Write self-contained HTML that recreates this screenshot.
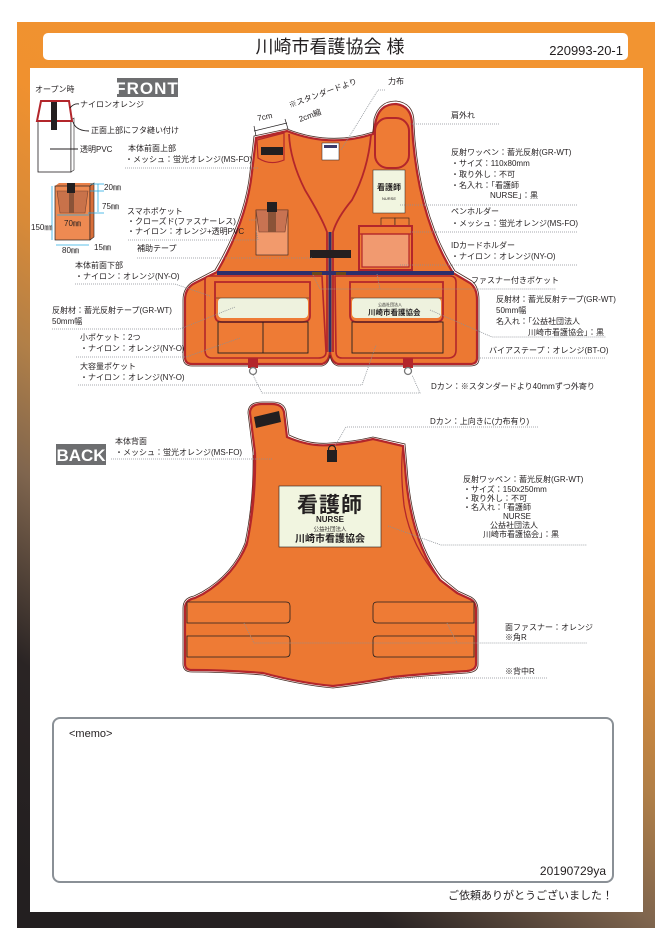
<!DOCTYPE html>
<html><head><meta charset="utf-8"><style>
html,body{margin:0;padding:0;background:#fff}
svg{display:block}
text{font-family:"Liberation Sans","Noto Sans CJK JP",sans-serif;fill:#231f20}
.l{font-size:8px}
.d{stroke:#8a8f95;stroke-width:0.8;stroke-dasharray:1 1;fill:none}
.v{fill:#ec7832;stroke:#b3262b;stroke-width:2.2}
.o{fill:none;stroke:#4a2a22;stroke-width:0.8}
.p{fill:#ee7b35;stroke:#b3262b;stroke-width:1.6}
.k{fill:none;stroke:#231f20;stroke-width:0.9}
</style></head><body>
<svg width="667" height="945" viewBox="0 0 667 945" xmlns="http://www.w3.org/2000/svg">
<defs>
<linearGradient id="fr" x1="100" y1="930" x2="600" y2="230" gradientUnits="userSpaceOnUse">
<stop offset="0" stop-color="#231f20"/>
<stop offset="0.2" stop-color="#2a2424"/>
<stop offset="0.38" stop-color="#7f654e"/>
<stop offset="0.5" stop-color="#b07f48"/>
<stop offset="0.62" stop-color="#d88a38"/>
<stop offset="0.75" stop-color="#f0912f"/>
<stop offset="1" stop-color="#f29431"/>
</linearGradient>
</defs>
<rect x="17" y="22" width="638" height="906" fill="url(#fr)"/>
<rect x="30" y="68" width="613" height="844" fill="#fff"/>
<rect x="43" y="33" width="585" height="27" rx="5" fill="#fff"/>
<text x="330" y="53" font-size="18" text-anchor="middle">川崎市看護協会 様</text>
<text x="623" y="55" font-size="13" text-anchor="end">220993-20-1</text>

<rect x="117" y="78" width="61" height="19" fill="#6d6e70"/>
<text x="147" y="94" font-size="17" font-weight="bold" text-anchor="middle" style="fill:#fff" letter-spacing="1">FRONT</text>
<rect x="56" y="444" width="50" height="21" fill="#6d6e70"/>
<text x="81" y="461" font-size="17" font-weight="bold" text-anchor="middle" style="fill:#fff" letter-spacing="0">BACK</text>

<text x="35" y="92" class="l">オープン時</text>
<rect x="38" y="120" width="33" height="52" fill="#fff" stroke="#231f20" stroke-width="0.8"/>
<polygon points="71,120 74,118 74,170 71,172" fill="#fff" stroke="#231f20" stroke-width="0.6"/>
<polygon points="41,101 69,101 72,121 37,121" fill="#fff" stroke="#b3262b" stroke-width="2"/>
<rect x="51" y="102" width="6" height="28" fill="#231f20"/>
<path d="M70,108 Q74,103 79,104" class="k"/><text x="80" y="107" class="l">ナイロンオレンジ</text>
<path d="M73,122 Q76,131 89,131" class="k"/><text x="91" y="133" class="l">正面上部にフタ縫い付け</text>
<line x1="50" y1="149" x2="78" y2="149" class="k"/><text x="80" y="152" class="l">透明PVC</text>

<polygon points="55,186 59,183 94,183 90,186" fill="#e9814a"/>
<rect x="55" y="186" width="35" height="54" fill="#ee8a52" stroke="#231f20" stroke-width="0.7"/>
<polygon points="90,186 94,183 94,237 90,240" fill="#d86f3a" stroke="#231f20" stroke-width="0.6"/>
<polygon points="57,191 88,191 85,213 60,213" fill="#c4704a" stroke="#6b3a2a" stroke-width="0.6" opacity="0.9"/>
<rect x="67" y="183" width="8" height="10" fill="#231f20"/>
<rect x="69" y="193" width="5" height="20" fill="#8a5338"/>
<g stroke="#29abe2" stroke-width="0.8" fill="none">
<line x1="52" y1="186" x2="52" y2="240"/><line x1="57" y1="215" x2="89" y2="215"/>
<line x1="56" y1="245" x2="89" y2="245"/><line x1="98" y1="184" x2="98" y2="212"/>
<line x1="90" y1="184" x2="104" y2="184"/><line x1="90" y1="191" x2="104" y2="191"/><line x1="88" y1="213" x2="104" y2="213"/>
</g>
<text x="104" y="190" class="l">20㎜</text><text x="102" y="209" class="l">75㎜</text>
<text x="31" y="230" class="l">150㎜</text><text x="64" y="226" class="l">70㎜</text>
<text x="62" y="253" class="l">80㎜</text><text x="94" y="250" class="l">15㎜</text>

<path class="v" d="M256,138 L287,131 Q330,148 373,134 L376,120 Q380,104 396,104 Q412,106 412,125 L413,140 Q420,220 453,273 L470,283 Q477,288 477,300 L477,358 Q477,364 470,364 L338,364 Q331,362 330,352 Q329,362 322,364 L192,364 Q185,364 185,357 L185,300 Q185,288 195,283 L217,272 Q247,220 252,172 Z"/>
<path class="o" d="M254,136 L287,129 Q330,146 373,132 L374,119 Q379,101 396,101 Q415,103 414,125 L415,140 Q422,219 455,271 L472,281 Q479,287 479,300 L479,359 Q479,366 470,366 L338,366 Q331,364 330,355 Q329,364 322,366 L192,366 Q183,366 183,357 L183,300 Q183,287 194,281 L215,270 Q245,219 250,172 Z"/>
<path d="M289,134 Q290,160 305,190 Q322,218 327,232 L327,352" fill="none" stroke="#b3262b" stroke-width="1.8"/>
<path d="M371,135 Q368,170 352,200 Q337,218 333,232 L333,352" fill="none" stroke="#b3262b" stroke-width="1.8"/>
<line x1="330" y1="232" x2="330" y2="352" stroke="#2e2f6b" stroke-width="3"/>
<rect x="217" y="271" width="237" height="4" fill="#2e2f6b"/>
<rect x="312" y="272" width="10" height="3" fill="#6b4a1a"/><rect x="336" y="272" width="10" height="3" fill="#6b4a1a"/>
<path d="M257,140 L284,133 L284,160 Q270,166 258,158 Z" fill="none" stroke="#b3262b" stroke-width="1.2"/>
<rect x="261" y="147" width="22" height="8" fill="#231f20"/>
<rect x="322" y="143" width="17" height="17" fill="#fff" stroke="#231f20" stroke-width="0.5"/>
<rect x="324" y="145" width="13" height="3" fill="#3a3a6a"/>
<rect x="375" y="118" width="34" height="50" rx="13" fill="#ee7b35" stroke="#b3262b" stroke-width="2"/>
<rect x="373" y="170" width="32" height="43" fill="#f1f5e0" stroke="#231f20" stroke-width="0.5"/>
<text x="389" y="190" font-size="8" font-weight="bold" text-anchor="middle">看護師</text>
<text x="389" y="200" font-size="4" text-anchor="middle">NURSE</text>
<rect x="381" y="218" width="14" height="8" fill="#ee7b35" stroke="#231f20" stroke-width="0.6"/>
<rect x="395" y="218" width="14" height="8" fill="#ee7b35" stroke="#231f20" stroke-width="0.6"/>
<rect x="359" y="226" width="53" height="44" fill="#ee7b35" stroke="#b3262b" stroke-width="2"/>
<rect x="362" y="234" width="47" height="33" fill="#f19a70" stroke="#b3262b" stroke-width="1.2"/>
<line x1="359" y1="234" x2="412" y2="234" stroke="#b3262b" stroke-width="1.2"/>
<rect x="256" y="210" width="32" height="45" fill="#f29a6c" stroke="#231f20" stroke-width="0.6"/>
<polygon points="256,210 288,210 285,232 259,232" fill="#c87352" stroke="#6b3a2a" stroke-width="0.6"/>
<rect x="267" y="202" width="10" height="10" fill="#231f20"/>
<rect x="268" y="212" width="8" height="20" fill="#8a5338"/>
<rect x="310" y="250" width="41" height="8" fill="#231f20"/>
<path class="p" d="M205,280 Q205,276 210,276 L322,276 L326,352 Q326,358 318,358 L212,358 Q205,358 205,350 Z"/>
<path d="M215,282 L310,282 L310,316 Q310,322 302,322 L222,322 Q215,322 215,315 Z" fill="#ee7b35" stroke="#b3262b" stroke-width="1.8"/>
<rect x="218" y="298" width="90" height="20" rx="4" fill="#eef2de"/>
<line x1="216" y1="298" x2="309" y2="298" stroke="#231f20" stroke-width="0.6"/>
<rect x="218" y="322" width="90" height="31" class="k"/><line x1="263" y1="322" x2="263" y2="353" class="k"/>
<path class="p" d="M335,276 L450,276 Q456,276 456,282 L456,350 Q456,358 448,358 L342,358 Q336,358 336,352 Z"/>
<path d="M350,282 L443,282 L443,315 Q443,322 436,322 L357,322 Q350,322 350,315 Z" fill="#ee7b35" stroke="#b3262b" stroke-width="1.8"/>
<rect x="352" y="298" width="89" height="20" rx="4" fill="#eef2de"/>
<line x1="351" y1="298" x2="442" y2="298" stroke="#231f20" stroke-width="0.6"/>
<text x="378" y="306" font-size="4">公益社団法人</text>
<text x="368" y="315" font-size="7.5" font-weight="bold">川崎市看護協会</text>
<rect x="352" y="322" width="91" height="31" class="k"/>
<rect x="248" y="358" width="10" height="10" fill="#b3262b"/><circle cx="253" cy="371" r="3.5" fill="none" stroke="#777" stroke-width="1.3"/>
<rect x="403" y="358" width="10" height="10" fill="#b3262b"/><circle cx="408" cy="371" r="3.5" fill="none" stroke="#777" stroke-width="1.3"/>

<text x="388" y="84" class="l">力布</text>
<path d="M385,90 L378,90 L341,150" class="d"/>
<g transform="translate(290,108) rotate(-20)"><text x="0" y="0" class="l">※スタンダードより</text></g>
<text x="300" y="122" class="l" transform="rotate(-20 300 122)">2cm縮</text>
<text x="258" y="121" class="l" transform="rotate(-12 258 121)">7cm</text>
<line x1="254" y1="131" x2="287" y2="123" stroke="#231f20" stroke-width="0.7"/>
<line x1="254" y1="126" x2="256" y2="136" stroke="#231f20" stroke-width="0.7"/><line x1="285" y1="119" x2="288" y2="129" stroke="#231f20" stroke-width="0.7"/>
<text x="451" y="118" class="l">肩外れ</text><line x1="410" y1="124" x2="500" y2="124" class="d"/>
<text x="451" y="155" class="l">反射ワッペン：蓄光反射(GR-WT)</text>
<text x="451" y="166" class="l">・サイズ：110x80mm</text>
<text x="451" y="177" class="l">・取り外し：不可</text>
<text x="451" y="188" class="l">・名入れ：「看護師</text>
<text x="490" y="198" class="l">NURSE」：黒</text>
<line x1="400" y1="205" x2="578" y2="205" class="d"/>
<text x="451" y="214" class="l">ペンホルダー</text>
<text x="451" y="226" class="l">・メッシュ：蛍光オレンジ(MS-FO)</text>
<line x1="410" y1="232" x2="578" y2="232" class="d"/>
<text x="451" y="248" class="l">IDカードホルダー</text>
<text x="451" y="259" class="l">・ナイロン：オレンジ(NY-O)</text>
<line x1="400" y1="265" x2="578" y2="265" class="d"/>
<text x="471" y="283" class="l">ファスナー付きポケット</text>
<path d="M313,275 L320,289 L556,289 M377,274 L380,289" class="d"/>
<text x="496" y="302" class="l">反射材：蓄光反射テープ(GR-WT)</text>
<text x="496" y="313" class="l">50mm幅</text>
<text x="496" y="324" class="l">名入れ：「公益社団法人</text>
<text x="528" y="335" class="l">川崎市看護協会」：黒</text>
<path d="M430,310 L492,337 L606,337" class="d"/>
<text x="489" y="353" class="l">バイアステープ：オレンジ(BT-O)</text>
<line x1="478" y1="358" x2="606" y2="358" class="d"/>
<text x="431" y="389" class="l">Dカン：※スタンダードより40mmずつ外寄り</text>
<path d="M253,375 L262,393 L420,393 L412,375" class="d"/>

<text x="128" y="151" class="l">本体前面上部</text>
<text x="125" y="162" class="l">・メッシュ：蛍光オレンジ(MS-FO)</text>
<line x1="125" y1="168" x2="258" y2="168" class="d"/>
<text x="127" y="214" class="l">スマホポケット</text>
<text x="127" y="224" class="l">・クローズド(ファスナーレス)</text>
<text x="127" y="234" class="l">・ナイロン：オレンジ+透明PVC</text>
<path d="M128,240 L258,240 L256,230 M249,220 L256,220" class="d"/>
<text x="137" y="251" class="l">補助テープ</text>
<line x1="137" y1="258" x2="313" y2="258" class="d"/>
<text x="75" y="268" class="l">本体前面下部</text>
<text x="75" y="279" class="l">・ナイロン：オレンジ(NY-O)</text>
<path d="M75,284 L175,284 L210,296" class="d"/>
<text x="52" y="313" class="l">反射材：蓄光反射テープ(GR-WT)</text>
<text x="52" y="324" class="l">50mm幅</text>
<path d="M52,329 L180,329 L235,307" class="d"/>
<text x="80" y="340" class="l">小ポケット：2つ</text>
<text x="80" y="351" class="l">・ナイロン：オレンジ(NY-O)</text>
<path d="M76,357 L186,357 L240,338" class="d"/>
<text x="80" y="369" class="l">大容量ポケット</text>
<text x="80" y="380" class="l">・ナイロン：オレンジ(NY-O)</text>
<path d="M78,385 L362,385 L376,345" class="d"/>

<path class="v" d="M250,413 Q250,404 262,404 L272,404 Q282,404 284,412 L287,437 Q310,447 330,445 Q352,444 373,439 L403,446 L405,467 Q410,540 440,580 L457,593 L470,599 Q476,602 476,610 L476,664 Q476,670 467,671 Q420,674 393,677 Q360,683 333,686 Q300,683 263,673 Q225,670 192,670 Q185,670 185,664 L185,608 Q185,600 195,598 L203,594 Q235,575 247,543 Q256,500 255,453 Z"/>
<path class="o" d="M248,413 Q248,402 262,402 L272,402 Q284,402 286,411 L289,435 Q310,445 330,443 Q352,442 373,437 L405,444 L407,467 Q412,540 442,578 L458,591 L471,597 Q478,601 478,610 L478,665 Q478,672 467,673 Q420,676 393,679 Q360,685 333,688 Q300,685 263,675 Q225,672 192,672 Q183,672 183,664 L183,608 Q183,598 194,596 L202,592 Q233,574 245,543 Q254,500 253,453 Z"/>
<path d="M403,447 Q400,470 404,505 Q410,545 440,580 L458,593" fill="none" stroke="#b3262b" stroke-width="1.3"/>
<path d="M254,455 Q254,500 247,545 Q236,572 203,594" fill="none" stroke="#b3262b" stroke-width="1.3"/>
<polygon points="254,417 279,411 281,422 256,428" fill="#231f20"/>
<circle cx="332" cy="449" r="3.5" fill="none" stroke="#231f20" stroke-width="1.2"/>
<rect x="327" y="450" width="10" height="12" fill="#231f20"/>
<rect x="279" y="486" width="102" height="61" fill="#f1f5e0" stroke="#231f20" stroke-width="0.6"/>
<text x="330" y="512" font-size="21" font-weight="bold" text-anchor="middle" letter-spacing="1">看護師</text>
<text x="330" y="522" font-size="8" font-weight="bold" text-anchor="middle">NURSE</text>
<text x="330" y="531" font-size="5.5" text-anchor="middle">公益社団法人</text>
<text x="330" y="542" font-size="10" font-weight="bold" text-anchor="middle">川崎市看護協会</text>
<g fill="#ee7b35" stroke="#231f20" stroke-width="0.8">
<path d="M187,602 L286,602 Q290,602 290,606 L290,619 Q290,623 286,623 L187,623 Z"/>
<path d="M187,636 L286,636 Q290,636 290,640 L290,653 Q290,657 286,657 L187,657 Z"/>
<path d="M474,602 L377,602 Q373,602 373,606 L373,619 Q373,623 377,623 L474,623 Z"/>
<path d="M474,636 L377,636 Q373,636 373,640 L373,653 Q373,657 377,657 L474,657 Z"/>
</g>
<text x="430" y="424" class="l">Dカン：上向きに(力布有り)</text>
<path d="M538,427 L346,427 L335,446" class="d"/>
<text x="115" y="444" class="l">本体背面</text>
<text x="115" y="455" class="l">・メッシュ：蛍光オレンジ(MS-FO)</text>
<line x1="111" y1="459" x2="272" y2="459" class="d"/>
<text x="463" y="482" class="l">反射ワッペン：蓄光反射(GR-WT)</text>
<text x="463" y="492" class="l">・サイズ：150x250mm</text>
<text x="463" y="501" class="l">・取り外し：不可</text>
<text x="463" y="510" class="l">・名入れ：「看護師</text>
<text x="503" y="519" class="l">NURSE</text>
<text x="490" y="528" class="l">公益社団法人</text>
<text x="483" y="537" class="l">川崎市看護協会」：黒</text>
<path d="M388,526 L441,545 L587,545" class="d"/>
<text x="505" y="630" class="l">面ファスナー：オレンジ</text>
<text x="505" y="640" class="l">※角R</text>
<path d="M244,623 L254,643 L587,643 M447,623 L457,643" class="d"/>
<text x="505" y="674" class="l">※背中R</text>
<line x1="390" y1="678" x2="547" y2="678" class="d"/>

<rect x="53" y="718" width="560" height="164" rx="7" fill="#fff" stroke="#8a9096" stroke-width="2"/>
<text x="69" y="737" font-size="11">&lt;memo&gt;</text>
<text x="606" y="875" font-size="12" text-anchor="end">20190729ya</text>
<text x="613" y="899" font-size="11" text-anchor="end">ご依頼ありがとうございました！</text>
</svg>
</body></html>
